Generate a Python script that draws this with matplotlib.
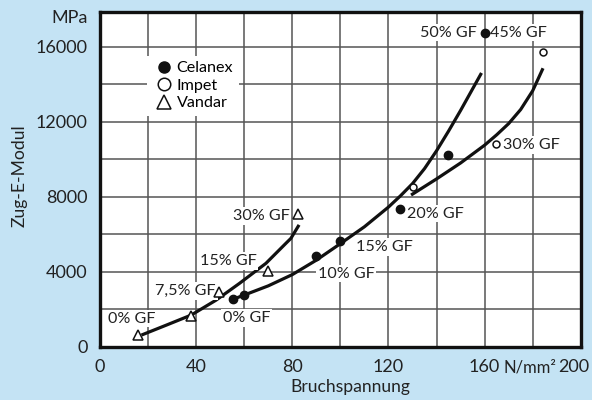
import matplotlib
matplotlib.use("Agg")
import matplotlib.pyplot as plt
from matplotlib.lines import Line2D

plt.rcParams['font.family'] = ['Lato', 'DejaVu Sans']

# Messpunkte (Bruchspannung N/mm2, Zug-E-Modul MPa)
celanex_x = [55.2, 60.0, 90.0, 99.7, 124.6, 144.6, 160.1]
celanex_y = [2530, 2760, 4840, 5650, 7340, 10220, 16710]
impet_x = [130.4, 164.7, 184.4]
impet_y = [8500, 10810, 15730]
vandar_x = [15.9, 37.7, 49.3, 69.7, 82.4]
vandar_y = [620, 1650, 2930, 4040, 7070]

# Ausgleichskurven
celanex_kx = [55.2, 60, 70, 80, 90, 100, 110, 120, 125, 130, 135, 140, 145, 150, 155, 158.7]
celanex_ky = [2530, 2760, 3250, 3850, 4620, 5500, 6400, 7450, 8050, 8700, 9500, 10450, 11500, 12600, 13750, 14600]
impet_kx = [129.4, 140, 150, 160, 165, 170, 175, 180, 184.3]
impet_ky = [8090, 8950, 9800, 10750, 11300, 11900, 12650, 13650, 14850]
vandar_kx = [17.2, 27.6, 37.9, 48.3, 58, 69, 77.3, 79.4, 82.8]
vandar_ky = [624, 1157, 1690, 2490, 3381, 4448, 5514, 5780, 6500]

# Beschriftungen: (text, x, y)
labels = [
    ("0% GF", 13.1, 1500),
    ("7,5% GF", 35.6, 2970),
    ("15% GF", 53.4, 4570),
    ("30% GF", 67.0, 6970),
    ("0% GF", 60.9, 1530),
    ("10% GF", 102.5, 3900),
    ("15% GF", 118.2, 5320),
    ("20% GF", 139.4, 7100),
    ("50% GF", 145.1, 16750),
    ("45% GF", 174.1, 16750),
    ("30% GF", 179.5, 10760),
]

xticks = [0, 40, 80, 120, 160]
yticks = [0, 4000, 8000, 12000, 16000]

bg = "#c4e3f4"
ink = "#222222"
fig = plt.figure(figsize=(5.92, 4.0), dpi=100, facecolor=bg)
ax = fig.add_axes([0.169, 0.133, 0.812, 0.837])
ax.set_facecolor("white")

ax.set_xlim(0, 200)
ax.set_ylim(0, 17850)
ax.set_xticks(range(0, 201, 20))
ax.set_yticks(range(0, 17001, 2000))
ax.set_xticklabels([str(t) if t in xticks else "" for t in range(0, 201, 20)])
ax.set_yticklabels([str(t) if t in yticks else "" for t in range(0, 17001, 2000)])
ax.grid(True, color="#555555", linewidth=1.1)
ax.set_axisbelow(True)
ax.tick_params(length=0, pad=9, labelsize=13, colors=ink)
for s in ax.spines.values():
    s.set_linewidth(2.4)
    s.set_color("#111111")

# Kurven
for kx, ky in [(celanex_kx, celanex_ky), (impet_kx, impet_ky), (vandar_kx, vandar_ky)]:
    ax.plot(kx, ky, color="#111111", lw=2.3, solid_capstyle="butt", zorder=3)

for text, x, y in labels:
    ax.text(x, y, text, ha="center", va="center", fontsize=11.6, color=ink, zorder=4,
            bbox=dict(boxstyle="square,pad=0.1", fc="white", ec="none"))

ax.plot(celanex_x, celanex_y, "o", color="#111111", ms=6, zorder=5)
ax.plot(impet_x, impet_y, "o", mfc="white", mec="#111111", mew=1.1, ms=5, zorder=5)
ax.plot(vandar_x, vandar_y, "^", mfc="white", mec="#111111", mew=1.1, ms=7, zorder=5)

handles = [
    Line2D([], [], ls="none", marker="o", color="#111111", ms=8),
    Line2D([], [], ls="none", marker="o", mfc="white", mec="#111111", mew=1.1, ms=9),
    Line2D([], [], ls="none", marker="^", mfc="white", mec="#111111", mew=1.1, ms=10),
]
leg = ax.legend(handles, ["Celanex", "Impet", "Vandar"], loc="upper left",
                bbox_to_anchor=(0.097, 0.87), fontsize=11.6, frameon=True,
                fancybox=False, borderpad=0.35, handlelength=1.5, handletextpad=0.0,
                labelspacing=0.2, borderaxespad=0)
leg.get_frame().set_facecolor("white")
leg.get_frame().set_edgecolor("none")
leg.get_frame().set_alpha(1)
leg.set_zorder(6)

ax.annotate("MPa", xy=(0, 17530), xycoords=("axes fraction", "data"), xytext=(-9, 0),
            textcoords="offset points", ha="right", va="center", fontsize=13, color=ink)
ax.annotate("N/mm²", xy=(178.7, 0), xycoords=("data", "axes fraction"), xytext=(0, -9),
            textcoords="offset points", ha="center", va="top", fontsize=12, color=ink)
ax.annotate("200", xy=(200, 0), xycoords=("data", "axes fraction"), xytext=(6.5, -9),
            textcoords="offset points", ha="right", va="top", fontsize=13, color=ink)

ax.set_xlabel("Bruchspannung", fontsize=12.6, color=ink)
ax.set_ylabel("Zug-E-Modul", fontsize=12.6, color=ink)
ax.xaxis.set_label_coords(0.52, -0.095)
ax.yaxis.set_label_coords(-0.15, 0.51)

fig.savefig("out.png", dpi=100, facecolor=bg)
